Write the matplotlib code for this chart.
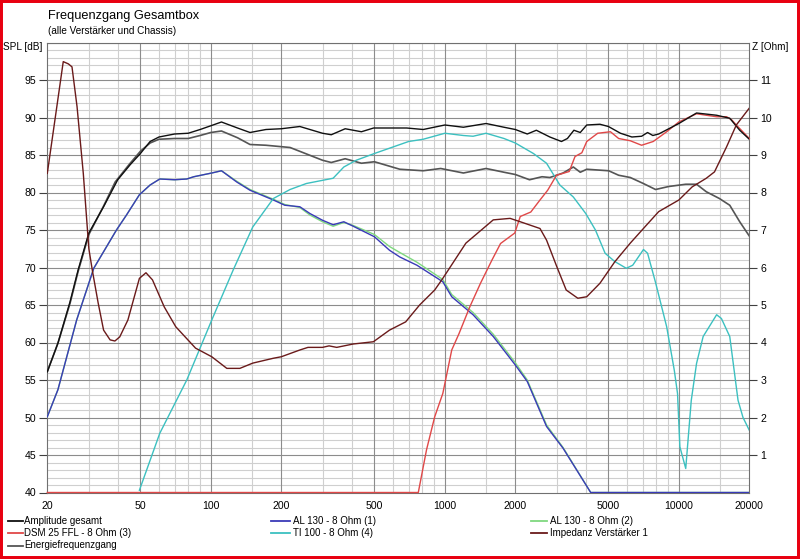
import matplotlib
matplotlib.use('Agg')
import matplotlib.pyplot as plt
from matplotlib.lines import Line2D
from matplotlib.patches import Rectangle

plt.rcParams['font.family'] = ['Liberation Sans', 'DejaVu Sans']

# ---------------- data ----------------
amp_f = [20, 22.2, 25, 27.1, 30.1, 34.8, 40, 45.2, 50, 55, 60, 70, 80, 90, 100, 111, 130, 147, 172, 200, 240,
         300, 327, 375, 440, 496, 687, 808, 1000, 1200, 1500, 1790, 2000, 2250, 2460, 2810, 3150, 3340, 3560,
         3790, 4040, 4600, 5000, 5630, 6300, 6930, 7350, 7740, 8200, 10000, 11900, 14500, 16500, 18200, 20000]
amp_db = [56.1, 59.9, 65.4, 69.7, 74.6, 78.1, 81.7, 83.7, 85.2, 86.8, 87.4, 87.8, 87.9, 88.4, 88.9, 89.4, 88.6, 88.0, 88.4, 88.5, 88.8,
          87.9, 87.7, 88.5, 88.1, 88.6, 88.6, 88.4, 89.0, 88.7, 89.2, 88.7, 88.4, 87.8, 88.3, 87.4, 86.8, 87.2, 88.3,
          88.0, 89.0, 89.1, 88.8, 87.9, 87.4, 87.5, 88.0, 87.6, 87.8, 89.2, 90.6, 90.3, 89.9, 88.3, 87.1]

energy_f = [20, 22.2, 25, 27.1, 30.1, 34.8, 39, 45.2, 50, 55, 60, 70, 80, 90, 100, 111, 130, 147, 172, 218,
            300, 327, 375, 440, 500, 642, 808, 960, 1200, 1500, 1790, 2000, 2300, 2600, 2810, 3200, 3540, 3790,
            4040, 5010, 5530, 6200, 7050, 7950, 9050, 10700, 11900, 13100, 14900, 16500, 18200, 20000]
energy_db = [56.1, 59.9, 65.2, 69.5, 74.4, 78.2, 81.4, 83.9, 85.5, 86.6, 87.1, 87.2, 87.2, 87.6, 88.0, 88.2, 87.3, 86.4, 86.3, 86.0,
             84.3, 84.0, 84.5, 83.9, 84.1, 83.1, 82.9, 83.2, 82.6, 83.2, 82.7, 82.4, 81.7, 82.1, 82.0, 82.6, 83.4, 82.7,
             83.1, 82.9, 82.3, 82.0, 81.2, 80.4, 80.8, 81.1, 81.1, 80.1, 79.2, 78.3, 76.1, 74.2]

al1_f = [20, 22.2, 26.7, 31.6, 39.5, 43.6, 49.5, 55, 60.5, 70, 78.9, 84.5, 100.9, 111, 129, 147, 185, 207, 240,
         265, 300, 333, 370, 406, 500, 580, 642, 760, 980, 1070, 1320, 1610, 2000, 2250, 2720, 3200, 4200, 20000]
al1_db = [50.1, 53.7, 63.0, 69.9, 75.0, 77.0, 79.7, 81.0, 81.8, 81.7, 81.8, 82.1, 82.6, 82.9, 81.4, 80.3, 79.0, 78.3, 78.1,
          77.2, 76.3, 75.7, 76.1, 75.5, 74.1, 72.3, 71.4, 70.3, 68.1, 66.1, 63.7, 60.8, 57.0, 54.8, 48.8, 45.9, 40.0, 40.0]

al2_f = [20, 22.2, 26.7, 31.6, 39.5, 43.6, 49.5, 55, 60.5, 70, 78.9, 84.5, 100.9, 111, 129, 147, 185, 207, 240,
         265, 300, 333, 370, 406, 500, 580, 642, 760, 980, 1070, 1320, 1610, 2000, 2250, 2720, 3200, 4200, 20000]
al2_db = [50.1, 53.7, 63.0, 69.9, 75.0, 77.0, 79.7, 81.0, 81.8, 81.7, 81.8, 82.1, 82.6, 82.9, 81.5, 80.4, 79.1, 78.4, 78.0,
          77.0, 76.1, 75.5, 76.0, 75.6, 74.4, 72.8, 72.0, 70.7, 68.4, 66.4, 64.0, 61.1, 57.3, 55.0, 49.0, 46.0, 40.0, 40.0]

dsm_f = [20, 770, 835, 905, 980, 1070, 1150, 1280, 1420, 1590, 1730, 1990, 2100, 2330, 2550, 2750, 3000, 3400,
         3600, 3850, 4040, 4500, 5100, 5530, 6200, 6930, 7770, 8870, 9990, 11900, 13100, 14500, 16000, 16800,
         17600, 20000]
dsm_db = [40.0, 40.0, 45.7, 50.1, 53.2, 59.0, 61.2, 64.8, 67.9, 71.0, 73.2, 74.6, 76.8, 77.4, 79.0, 80.3, 82.3, 82.8,
          84.8, 85.3, 86.8, 87.9, 88.1, 87.2, 86.9, 86.3, 86.8, 88.1, 89.4, 90.5, 90.3, 90.1, 90.1, 89.7,
          89.0, 87.2]

ti_f = [49.5, 60.5, 78.9, 100.9, 124.7, 151, 185, 218, 256, 333, 370, 418, 500, 700, 808, 1000, 1200, 1320,
        1500, 1790, 2000, 2390, 2720, 3100, 3540, 4000, 4400, 4840, 5320, 5960, 6350, 7060, 7350, 7950, 8870,
        9560, 9870, 10100, 10700, 11300, 11900, 12700, 14500, 15200, 16500, 17900, 18800, 20000]
ti_db = [40.3, 47.9, 55.0, 63.0, 69.7, 75.4, 79.2, 80.4, 81.2, 81.9, 83.4, 84.3, 85.2, 86.8, 87.1, 87.9, 87.6, 87.5,
         87.9, 87.2, 86.6, 85.2, 83.9, 81.0, 79.4, 77.2, 75.0, 71.9, 70.8, 69.9, 70.3, 72.4, 71.9, 68.0, 62.1,
         56.3, 53.2, 46.1, 43.2, 52.3, 57.2, 60.8, 63.7, 63.2, 60.8, 52.3, 50.0, 48.3]

imp_f = [20, 23.4, 24.6, 25.5, 26.8, 28.5, 30.1, 31.2, 33.0, 34.8, 37.1, 38.9, 40.8, 44.2, 49.5, 52.8, 56.3, 63.2,
         70.8, 86, 100.9, 117, 133, 151, 185, 200, 240, 260, 300, 320, 345, 406, 495, 580, 680, 780, 905, 980,
         1230, 1610, 1900, 2100, 2550, 2720, 3010, 3300, 3700, 4040, 4600, 5320, 6200, 7270, 8200, 10000,
         11400, 13100, 14200, 16000, 17600, 20000]
imp_ohm = [8.51, 11.49, 11.43, 11.35, 10.29, 8.51, 6.5, 5.9, 5.05, 4.33, 4.07, 4.04, 4.15, 4.6, 5.71, 5.86, 5.67, 4.95,
           4.42, 3.85, 3.62, 3.31, 3.31, 3.45, 3.58, 3.62, 3.8, 3.87, 3.87, 3.91, 3.87, 3.96, 4.02, 4.33, 4.55, 5.0, 5.4, 5.71,
           6.65, 7.27, 7.31, 7.22, 7.04, 6.73, 6.02, 5.4, 5.18, 5.22, 5.58, 6.15, 6.65, 7.13, 7.49, 7.8,
           8.15, 8.38, 8.55, 9.22, 9.8, 10.25]

x_major = [20, 50, 100, 200, 500, 1000, 2000, 5000, 10000, 20000]
x_minor = [30, 40, 60, 70, 80, 90, 150, 300, 400, 600, 700, 800, 900, 1500, 3000, 4000, 6000, 7000, 8000, 9000, 15000]
spl_ticks = [40, 45, 50, 55, 60, 65, 70, 75, 80, 85, 90, 95]
z_ticks = [1, 2, 3, 4, 5, 6, 7, 8, 9, 10, 11]

series = [
    ("Amplitude gesamt", "#101010"),
    ("AL 130 - 8 Ohm (1)", "#3a3ab8"),
    ("AL 130 - 8 Ohm (2)", "#7fd87f"),
    ("DSM 25 FFL - 8 Ohm (3)", "#e04848"),
    ("TI 100 - 8 Ohm (4)", "#3cc0c0"),
    ("Impedanz Verstärker 1", "#6a1a1a"),
    ("Energiefrequenzgang", "#555555"),
]
col = dict(series)

# ---------------- figure ----------------
W, H = 800, 559
fig = plt.figure(figsize=(W / 100, H / 100), dpi=100)
fig.patch.set_facecolor('white')
x0, x1, ytop, ybot = 47.3, 749.3, 42.5, 492.5
ax = fig.add_axes([x0 / W, 1 - ybot / H, (x1 - x0) / W, (ybot - ytop) / H])
ax.set_xscale('log')
ax.set_xlim(20, 20000)
ax.set_ylim(40, 100)

# grid
for f in x_minor:
    ax.axvline(f, color='#cfcfcf', lw=0.8, zorder=0)
for f in x_major[1:-1]:
    ax.axvline(f, color='#8c8c8c', lw=0.8, zorder=0.5)
for v in range(41, 100):
    if v % 5:
        ax.axhline(v, color='#cfcfcf', lw=0.8, zorder=0)
for v in range(45, 101, 5):
    ax.axhline(v, color='#8c8c8c', lw=0.8, zorder=0.5)

ax.set_xticks(x_major)
ax.set_xticklabels([str(v) for v in x_major])
ax.set_xticks([], minor=True)
ax.set_yticks(spl_ticks)
ax.set_yticklabels([str(v) for v in spl_ticks])
ax.set_yticks([], minor=True)
ax.tick_params(axis='y', length=6, width=0.8, color='#404040', pad=2, labelsize=7.6)
ax.tick_params(axis='x', length=0, pad=6, labelsize=7.6)
for s in ax.spines.values():
    s.set_color('#707070')
    s.set_linewidth(0.8)

lw = 1.0
ax.plot(energy_f, energy_db, color=col["Energiefrequenzgang"], lw=1.2, zorder=3)
ax.plot(al2_f, al2_db, color=col["AL 130 - 8 Ohm (2)"], lw=lw, zorder=3)
ax.plot(al1_f, al1_db, color=col["AL 130 - 8 Ohm (1)"], lw=lw, zorder=3)
ax.plot(ti_f, ti_db, color=col["TI 100 - 8 Ohm (4)"], lw=lw, zorder=3)
ax.plot(dsm_f, dsm_db, color=col["DSM 25 FFL - 8 Ohm (3)"], lw=lw, zorder=3, clip_on=False)
ax.plot(amp_f, amp_db, color=col["Amplitude gesamt"], lw=lw, zorder=4)

ax2 = ax.twinx()
ax2.set_ylim(0, 12)
ax2.set_yticks(z_ticks)
ax2.set_yticklabels([str(v) for v in z_ticks])
ax2.tick_params(axis='y', length=6, width=0.8, color='#404040', pad=2, labelsize=7.6)
for s in ax2.spines.values():
    s.set_visible(False)
ax2.plot(imp_f, imp_ohm, color=col["Impedanz Verstärker 1"], lw=lw, zorder=5)

# texts
fig.text(48 / W, 1 - 16 / H, "Frequenzgang Gesamtbox", fontsize=9.2, va='center', ha='left')
fig.text(48 / W, 1 - 31.5 / H, "(alle Verstärker und Chassis)", fontsize=7.2, va='center', ha='left')
fig.text(3 / W, 1 - 47 / H, "SPL [dB]", fontsize=7.2, va='center', ha='left')
fig.text(752 / W, 1 - 46.5 / H, "Z [Ohm]", fontsize=7.2, va='center', ha='left')

# legend (manual, 3 columns)
rows = [520.5, 532.8, 545.5]
cols = [(7.7, 23, 24.5), (271, 290, 293), (531, 547, 549.5)]
layout = [(0, 0), (0, 1), (0, 2), (1, 0), (1, 1), (1, 2), (2, 0)]
for (name, c), (r, cidx) in zip(series, layout):
    lx0, lx1, tx = cols[cidx]
    y = 1 - rows[r] / H
    fig.add_artist(Line2D([lx0 / W, lx1 / W], [y, y], color=c, lw=1.3, transform=fig.transFigure))
    fig.text(tx / W, y, name, fontsize=7.0, va='center', ha='left')

# red frame around the picture
fig.add_artist(Rectangle((0, 0), 1, 1, transform=fig.transFigure, fill=False,
                         edgecolor='#e80010', lw=4.3))

fig.savefig('out.png', dpi=100)
